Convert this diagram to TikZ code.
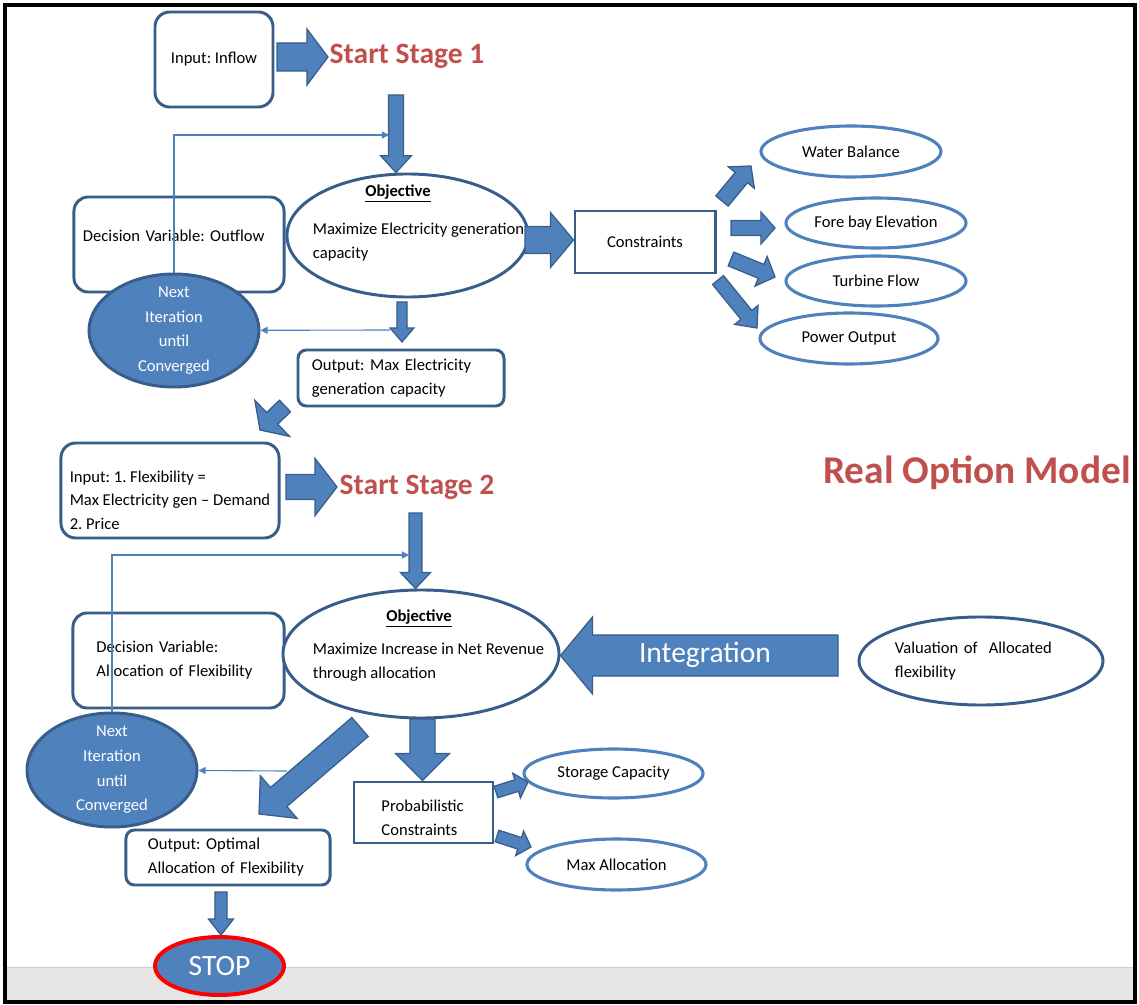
\documentclass[tikz,border=0pt]{standalone}
\usepackage{fontspec}
\setmainfont{Carlito}
\usetikzlibrary{positioning, arrows.meta, shapes.geometric, calc}
\definecolor{boxline}{HTML}{385D8A}
\definecolor{midblue}{HTML}{4F81BD}
\definecolor{stagered}{HTML}{C0504D}
\definecolor{bandgrey}{HTML}{E6E6E6}
\frenchspacing
\hyphenpenalty=10000
\newcommand{\bodyfont}{\fontsize{11.8}{17}\selectfont}
% block arrow: from, to, half shaft, half head, head length
\newcommand{\fatarrow}[5]{%
  \filldraw[fat] ($#1!#3!90:#2$) -- ($#2!#5!#1!#3!90:#2$) -- ($#2!#5!#1!#4!90:#2$) -- #2
    -- ($#2!#5!#1!#4!-90:#2$) -- ($#2!#5!#1!#3!-90:#2$) -- ($#1!#3!-90:#2$) -- cycle;}
\tikzset{
  box/.style={draw=boxline, line width=2.1pt, fill=white, rounded corners=10pt, inner sep=0pt, align=left},
  oval/.style={ellipse, draw=boxline, line width=2.1pt, fill=white, inner sep=0pt},
  goal/.style={ellipse, draw=midblue, line width=2.2pt, fill=white, inner sep=0pt},
  loopnode/.style={ellipse, draw=boxline, line width=2.1pt, fill=midblue, text=white, align=center,
    inner sep=0pt, inner ysep=-5pt, font=\fontsize{11.8}{17.5}\selectfont},
  stage/.style={text=stagered, font=\fontsize{21}{25}\selectfont\bfseries},
  fat/.style={fill=midblue, draw=boxline, line width=0.9pt},
  back/.style={draw=midblue, line width=0.8pt, -{Triangle[length=5pt,width=5pt]}},
}

\begin{document}
\begin{tikzpicture}[x=0.025cm, y=-0.025cm, font=\bodyfont]
  \useasboundingbox (0,0) rectangle (1139,1005);
  % frame
  \fill[bandgrey] (7,967) rectangle (1133,1000);
  \draw[gray!40, line width=0.6pt] (7,967) -- (1133,967);
  \draw[line width=2.6pt] (5,5) rectangle (1135,1002);

  % stage 1
  \node[box, rounded corners=10.5pt, minimum width=2.95cm, minimum height=2.375cm, align=center] (in1) at (214,59.5) {Input: Inflow};
  \node[stage] (s1) at (407,56) {Start Stage 1};
  \node[box, minimum width=5.25cm, minimum height=2.375cm, text width=4.8cm, text depth=13pt] (dec1) at (179,244.5) {Decision Variable: Outflow};
  \node[oval, minimum width=6.025cm, minimum height=3.075cm] (obj1) at (407.5,235.5) {};
  \node[font=\bodyfont\bfseries] (obj1h) at (398,193) {\underline{Objective}};
  \node[anchor=west, align=left] (obj1b) at (308,242) {Maximize Electricity generation\\capacity};
  \node[loopnode, minimum width=4.25cm, minimum height=2.825cm] (nxt1) at (174,330.5) {Next\\Iteration\\until\\Converged};
  \node[box, rounded corners=6pt, minimum width=5.15cm, minimum height=1.4cm, text width=4.45cm] (out1) at (401,378) {Output: Max Electricity\\generation capacity};
  \node[box, sharp corners, minimum width=3.5cm, minimum height=1.55cm, align=center] (con) at (645,242) {Constraints};
  \node[goal, minimum width=4.5cm, minimum height=1.275cm] (wb) at (851,151.5) {Water Balance};
  \node[goal, minimum width=4.5cm, minimum height=1.25cm] (fb) at (876,223) {Fore bay Elevation};
  \node[goal, minimum width=4.5cm, minimum height=1.25cm] (tf) at (876,281) {Turbine Flow};
  \node[goal, minimum width=4.45cm, minimum height=1.275cm] (po) at (849,338.5) {Power Output};

  % stage 2
  \node[box, rounded corners=10.5pt, minimum width=5.45cm, minimum height=2.375cm, text height=56pt] (in2) at (170,490.5) {Input: 1. Flexibility =\\Max Electricity gen -- Demand\\2. Price};
  \node[stage] (s2) at (417,487) {Start Stage 2};
  \node[text=stagered, font=\fontsize{28}{32}\selectfont\bfseries] (rom) at (977,473) {Real Option Model};
  \node[box, minimum width=5.275cm, minimum height=2.375cm, text width=4.1cm] (dec2) at (178.5,660.5) {Decision Variable:\\Allocation of Flexibility};
  \node[oval, minimum width=6.9cm, minimum height=3.2cm] (obj2) at (421,654) {};
  \node[font=\bodyfont\bfseries] (obj2h) at (419,618) {\underline{Objective}};
  \node[anchor=west, align=left] (obj2b) at (308,662.5) {Maximize Increase in Net Revenue\\through allocation};
  \node[loopnode, minimum width=4.25cm, minimum height=2.85cm] (nxt2) at (112,770) {Next\\Iteration\\until\\Converged};
  \node[box, rounded corners=6pt, minimum width=5.1cm, minimum height=1.375cm, text width=4.0cm] (out2) at (228,857.5) {Output: Optimal\\Allocation of Flexibility};
  \node[oval, draw=red, line width=2.8pt, fill=midblue, text=white, minimum width=3.225cm, minimum height=1.45cm, font=\fontsize{21}{25}\selectfont] (stop) at (219.5,966) {STOP};
  \node[box, sharp corners, minimum width=3.475cm, minimum height=1.525cm, text width=2.1cm, text height=15.8pt] (prob) at (423.5,812.5) {Probabilistic\\Constraints};
  \node[goal, minimum width=4.475cm, minimum height=1.225cm] (stc) at (613.5,773.5) {Storage Capacity};
  \node[goal, minimum width=4.475cm, minimum height=1.275cm] (mxa) at (616.5,864.5) {Max Allocation};
  \node[oval, minimum width=6.1cm, minimum height=2.2cm, text width=4.3cm, align=left] (val) at (981,661) {Valuation of\ \ Allocated\\flexibility};

  % arrow ends
  \coordinate (a1s) at (277,57);   \coordinate (a1e) at (328,57);
  \coordinate (a2s) at (396,95);   \coordinate (a2e) at (obj1.north -| a2s);
  \coordinate (a3s) at (402,302);  \coordinate (a3e) at (402,342);
  \coordinate (a4s) at (525,240);  \coordinate (a4e) at (con.west |- a4s);
  \coordinate (a5s) at (722,201);  \coordinate (a5e) at (751,166);
  \coordinate (a6s) at (731,228);  \coordinate (a6e) at (775,228);
  \coordinate (a7s) at (731,259);  \coordinate (a7e) at (775,277);
  \coordinate (a8s) at (718,280);  \coordinate (a8e) at (757,328);
  \coordinate (a9s) at (285,406);  \coordinate (a9e) at (260,430);
  \coordinate (a10s) at (286,487); \coordinate (a10e) at (337,487);
  \coordinate (a11s) at (415.5,513); \coordinate (a11e) at (obj2.north -| a11s);
  \coordinate (a12s) at (838,655.5); \coordinate (a12e) at (obj2.east |- a12s);
  \coordinate (a13s) at (360,727); \coordinate (a13e) at (259,814);
  \coordinate (a14s) at (422.5,719); \coordinate (a14e) at (prob.north -| a14s);
  \coordinate (a15s) at (496,792); \coordinate (a15e) at (528,782);
  \coordinate (a16s) at (497,836); \coordinate (a16e) at (531,847);
  \coordinate (a17s) at (221,892); \coordinate (a17e) at (stop.north -| a17s);

  \fatarrow{(a1s)}{(a1e)}{10pt}{20pt}{15pt}
  \fatarrow{(a2s)}{(a2e)}{5.3pt}{11pt}{12pt}
  \fatarrow{(a3s)}{(a3e)}{3.6pt}{8.5pt}{10pt}
  \fatarrow{(a4s)}{(a4e)}{9.6pt}{19.6pt}{16.4pt}
  \fatarrow{(a5s)}{(a5e)}{5.7pt}{12pt}{10.7pt}
  \fatarrow{(a6s)}{(a6e)}{5.3pt}{11.4pt}{10pt}
  \fatarrow{(a7s)}{(a7e)}{5.3pt}{11.4pt}{10.7pt}
  \fatarrow{(a8s)}{(a8e)}{5pt}{10.7pt}{12pt}
  \fatarrow{(a9s)}{(a9e)}{5.7pt}{17.8pt}{12pt}
  \fatarrow{(a10s)}{(a10e)}{8.9pt}{20.3pt}{15.6pt}
  \fatarrow{(a11s)}{(a11e)}{4.6pt}{10.7pt}{11.4pt}
  \fatarrow{(a12s)}{(a12e)}{14.6pt}{27.4pt}{22.8pt}
  \fatarrow{(a13s)}{(a13e)}{8.9pt}{20pt}{18.5pt}
  \fatarrow{(a14s)}{(a14e)}{8.9pt}{19.2pt}{19.2pt}
  \fatarrow{(a15s)}{(a15e)}{4.3pt}{9.2pt}{8.5pt}
  \fatarrow{(a16s)}{(a16e)}{4.3pt}{9.2pt}{8.5pt}
  \fatarrow{(a17s)}{(a17e)}{4.3pt}{8.9pt}{11.4pt}
  \node[text=white, font=\fontsize{21}{25}\selectfont] (intg) at (705,655) {Integration};

  % iteration loops
  \coordinate (t1) at (389,135);
  \coordinate (t2) at (390,330);
  \coordinate (t3) at (409,555);
  \coordinate (t4) at (287,771);
  \draw[back] (nxt1.north) |- (t1);
  \draw[back] (t2) -- (nxt1);
  \draw[back] (nxt2.north) |- (t3);
  \draw[back] (t4) -- (nxt2);
\end{tikzpicture}
\end{document}
